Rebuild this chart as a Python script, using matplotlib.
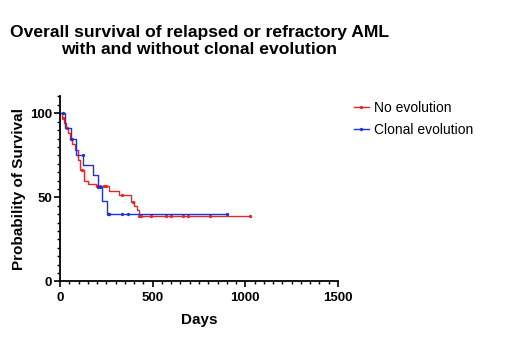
import numpy as np
import matplotlib.pyplot as plt
from matplotlib.ticker import MultipleLocator

plt.rcParams['font.family'] = ['Liberation Sans', 'DejaVu Sans']

RED = "#e3272b"
BLUE = "#1d35d0"

# No evolution: event times (days) and survival (%)
red_times = [0, 9, 20, 30, 45, 55, 65, 80, 95, 110, 130, 150, 195, 264, 318, 382, 400, 414, 424]
red_surv = [100, 97, 94, 91, 88, 85, 82, 78, 72, 66, 60, 58, 56.5, 54, 51.5, 47.5, 45, 42.5, 39]
red_censor = [18, 36, 63, 118, 200, 218, 236, 250, 336, 396, 427, 436, 491, 573, 600, 664, 691, 809, 1023]

# Clonal evolution
blue_times = [0, 27, 58, 87, 125, 178, 205, 227, 251]
blue_surv = [100, 91, 85, 75, 69, 63, 56, 48, 40]
blue_censor = [18, 60, 122, 205, 214, 258, 264, 336, 367, 900]

title = "Overall survival of relapsed or refractory AML\nwith and without clonal evolution"


def surv_at(times, surv, t):
    idx = np.searchsorted(times, t, side='right') - 1
    return np.asarray(surv)[idx]


def km_plot(ax, times, surv, censor, color, label):
    end = max(max(censor), max(times))
    t = list(times) + [end]
    s = list(surv) + [surv[-1]]
    ax.step(t, s, where='post', color=color, lw=1.0, label=label)
    ax.plot(censor, surv_at(times, surv, censor), 'o', color=color,
            ms=2.4, mew=0, ls='none')


fig = plt.figure(figsize=(5.2, 3.45), dpi=100)
ax = fig.add_axes([0.1154, 0.1846, 0.5346, 0.5357])

km_plot(ax, red_times, red_surv, red_censor, RED, "No evolution")
km_plot(ax, blue_times, blue_surv, blue_censor, BLUE, "Clonal evolution")

ax.set_xlim(0, 1500)
ax.set_ylim(0, 110)
ax.xaxis.set_major_locator(MultipleLocator(500))
ax.xaxis.set_minor_locator(MultipleLocator(50))
ax.yaxis.set_major_locator(MultipleLocator(50))
ax.yaxis.set_minor_locator(MultipleLocator(5))
for s in ('top', 'right'):
    ax.spines[s].set_visible(False)
for s in ('left', 'bottom'):
    ax.spines[s].set_linewidth(1.3)
ax.tick_params(which='major', length=4, width=1.2, labelsize=9.5)
ax.tick_params(axis='y', which='major', pad=1.5)
ax.tick_params(axis='x', which='major', pad=4)
ax.tick_params(which='minor', length=2.3, width=1.0)
for lab in ax.get_xticklabels() + ax.get_yticklabels():
    lab.set_fontweight('bold')

ax.set_xlabel("Days", fontsize=11, fontweight='bold', labelpad=6)
ax.set_ylabel("Probability of Survival", fontsize=11, fontweight='bold', labelpad=3)

fig.text(199 / 520, 1 - 41 / 345, title, ha='center', va='center',
         fontsize=12.6, fontweight='bold', linespacing=1.25)

handles = [plt.Line2D([], [], color=c, lw=1.0, marker='o', ms=2.4, mew=0)
           for c in (RED, BLUE)]
fig.legend(handles, ["No evolution", "Clonal evolution"], loc='upper left',
           bbox_to_anchor=(348 / 520, 1 - 95 / 345), frameon=False,
           fontsize=10, handlelength=1.1, handletextpad=0.4, labelspacing=0.62,
           borderaxespad=0, borderpad=0.4)

fig.savefig("out.png", dpi=100)
